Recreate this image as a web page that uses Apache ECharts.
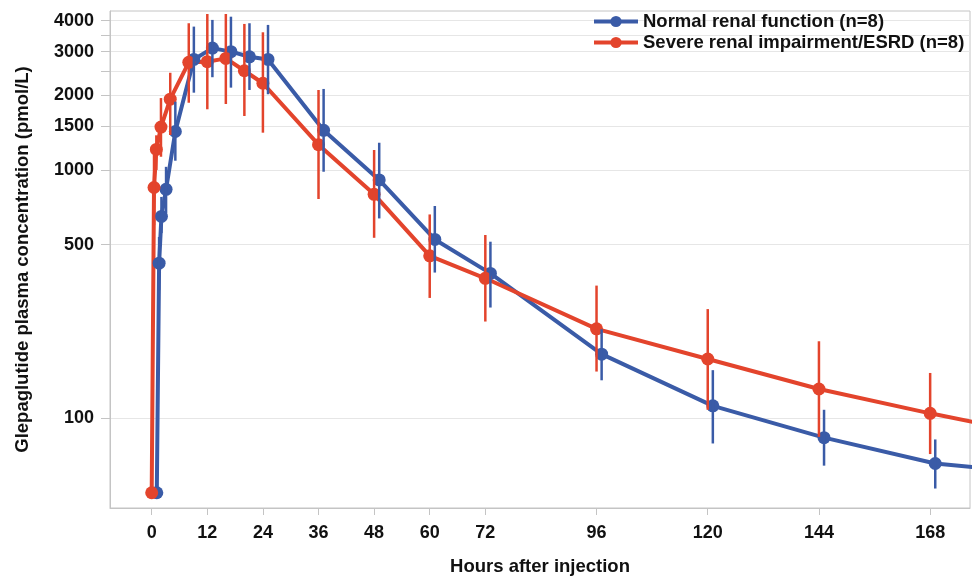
<!DOCTYPE html>
<html>
<head>
    <meta charset="utf-8">
    <title>Glepaglutide plasma concentration</title>
    <script src="https://cdn.jsdelivr.net/npm/echarts@6.0.0/dist/echarts.min.js"></script>
    <style>
        body { margin: 0; background: #fff; }
    </style>
</head>
<body>
    <div id="main" style="width: 972px;height:577px;"></div>

    <script type="text/javascript">
        // nominal sampling times (h)
        const times = [0, 0.5, 1, 2, 4, 8, 12, 16, 20, 24, 36, 48, 60, 72, 96, 120, 144, 168, 192];

        // normal renal function (n=8)
        const normalMean = [50, 421, 650, 836, 1430, 2790, 3100, 3000, 2860, 2790, 1445, 912, 525, 383, 181, 112, 83.4, 65.6, 59.5];
        const normalLow = [null, 328, 557, 670, 1090, 2050, 2366, 2148, 2102, 2020, 984, 638, 386, 279, 142, 79, 64.3, 52, null];
        const normalHigh = [null, 537, 779, 1030, 1885, 3785, 4028, 4150, 3905, 3845, 2122, 1288, 716, 514, 228, 156, 108, 82, null];

        // severe renal impairment / ESRD (n=8)
        const esrdMean = [50, 850, 1210, 1490, 1930, 2717, 2733, 2818, 2512, 2237, 1265, 798, 451, 366, 229, 173, 131, 104.5, 85];
        const esrdLow = [null, 600, 1000, 1131, 1384, 1867, 1757, 1845, 1651, 1414, 764, 533, 305, 245, 154, 108, 84, 71.6, null];
        const esrdHigh = [null, 1150, 1380, 1950, 2466, 3905, 4256, 4256, 3880, 3591, 2102, 1204, 662, 547, 342, 275, 204, 152, null];

        // axis ticks
        const xTicks = [0, 12, 24, 36, 48, 60, 72, 96, 120, 144, 168];
        const yTicks = [100, 500, 1000, 1500, 2000, 2500, 3000, 3500, 4000];
        const yLabels = [100, 500, 1000, 1500, 2000, 3000, 4000];

        const blue = '#3a5ba7';
        const red = '#e3442c';
        const dodge = 1.1; // blue points are shifted a little to the right

        const lg = v => Math.log10(v);

        function lineData(means, shift) {
            return times.map((t, i) => [t + shift, lg(means[i])]);
        }

        function errData(low, high, shift) {
            return times
                .map((t, i) => low[i] == null ? null : [t + shift, lg(low[i]), lg(high[i])])
                .filter(d => d);
        }

        function errSeries(name, color, data) {
            return {
                name: name,
                type: 'custom',
                data: data,
                encode: { x: 0, y: [1, 2] },
                clip: true,
                z: 3,
                renderItem: function (params, api) {
                    const p1 = api.coord([api.value(0), api.value(1)]);
                    const p2 = api.coord([api.value(0), api.value(2)]);
                    return {
                        type: 'line',
                        shape: { x1: p1[0], y1: p1[1], x2: p2[0], y2: p2[1] },
                        style: { stroke: color, lineWidth: 2.5 }
                    };
                }
            };
        }

        const myChart = echarts.init(document.getElementById('main'));

        const font = '"Liberation Sans", Arial, sans-serif';

        const option = {
            animation: false,
            textStyle: { fontFamily: font },
            legend: {
                data: ['Normal renal function (n=8)', 'Severe renal impairment/ESRD (n=8)'],
                orient: 'vertical',
                left: 587,
                top: 6,
                itemWidth: 44,
                itemHeight: 14,
                itemGap: 0,
                lineStyle: { width: 4 },
                textStyle: { fontSize: 18.5, lineHeight: 21, fontWeight: 'bold', color: '#111', fontFamily: font }
            },
            grid: {
                left: 110,
                right: 2,
                top: 11,
                bottom: 69,
                outerBoundsMode: 'none',
                containLabel: false,
                show: true,
                borderColor: '#c4c4c4',
                borderWidth: 1
            },
            xAxis: {
                type: 'value',
                min: -9,
                max: 176.6,
                name: 'Hours after injection',
                nameLocation: 'middle',
                nameGap: 49,
                nameTextStyle: { fontSize: 18.5, fontWeight: 'bold', color: '#111' },
                axisLine: { show: true, onZero: false, lineStyle: { color: '#c4c4c4' } },
                axisTick: { show: true, length: 7, customValues: xTicks, lineStyle: { color: '#c4c4c4' } },
                axisLabel: { customValues: xTicks, fontSize: 18, fontWeight: 'bold', color: '#111', margin: 16 },
                splitLine: { show: false }
            },
            yAxis: {
                type: 'value',
                min: lg(43.4),
                max: lg(4375),
                name: 'Glepaglutide plasma concentration (pmol/L)',
                nameLocation: 'middle',
                nameGap: 78,
                nameTextStyle: { fontSize: 18.5, fontWeight: 'bold', color: '#111' },
                axisLine: { show: true, onZero: false, lineStyle: { color: '#c4c4c4' } },
                axisTick: { show: true, length: 9, customValues: yTicks.map(lg), lineStyle: { color: '#c4c4c4' } },
                axisLabel: {
                    customValues: yLabels.map(lg),
                    formatter: v => String(Math.round(Math.pow(10, v))),
                    fontSize: 18, fontWeight: 'bold', color: '#111', margin: 16
                },
                splitLine: { show: true, lineStyle: { color: '#e6e6e6' } }
            },
            series: [
                {
                    name: 'Normal renal function (n=8)',
                    type: 'line',
                    data: lineData(normalMean, dodge),
                    color: blue,
                    symbol: 'circle',
                    symbolSize: 13,
                    lineStyle: { width: 4 },
                    clip: true,
                    z: 2
                },
                {
                    name: 'Severe renal impairment/ESRD (n=8)',
                    type: 'line',
                    data: lineData(esrdMean, 0),
                    color: red,
                    symbol: 'circle',
                    symbolSize: 13,
                    lineStyle: { width: 4 },
                    clip: true,
                    z: 2
                },
                errSeries('normal error', blue, errData(normalLow, normalHigh, dodge)),
                errSeries('esrd error', red, errData(esrdLow, esrdHigh, 0))
            ]
        };

        myChart.setOption(option);
    </script>
</body>
</html>
